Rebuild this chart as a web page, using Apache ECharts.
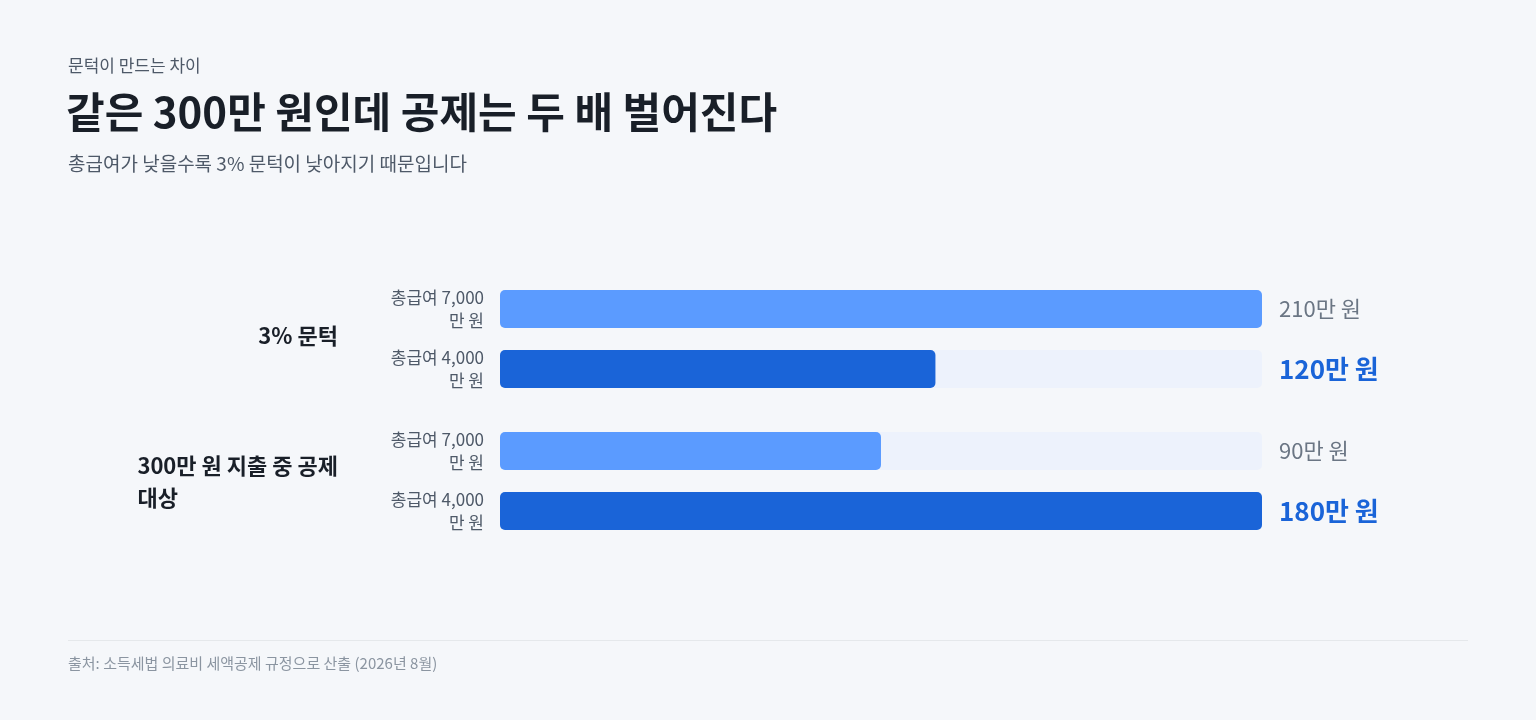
<!DOCTYPE html>
<html><head><meta charset="utf-8">
<script src="https://cdn.jsdelivr.net/npm/echarts@6/dist/echarts.min.js"></script>
<style>html,body{margin:0;background:#f5f7fa}#c{width:1536px;height:720px}</style>
</head><body><div id="c"></div>
<script>
const groups = ['3% 문턱', '300만 원 지출 중 공제\n대상'];
const rowLabels = ['총급여 7,000\n만 원', '총급여 4,000\n만 원'];
const values1 = [210, 120];
const values2 = [90, 180];
const valueText1 = ['210만 원', '120만 원'];
const valueText2 = ['90만 원', '180만 원'];

const F = '"Noto Sans CJK KR","Noto Sans",sans-serif';
const chart = echarts.init(document.getElementById('c'));
const barColors = ['#5b9bff', '#1a64d8'];
function grid(i, top){ return {left:500, width:762, top:top, height:120}; }
function yAx(i){ return {type:'category', gridIndex:i, inverse:true, data:rowLabels,
  axisLine:{show:false}, axisTick:{show:false},
  axisLabel:{fontFamily:F, fontSize:17, color:'#4e5968', lineHeight:23, align:'right', margin:16}}; }
function xAx(i, max){ return {type:'value', gridIndex:i, max:max, min:0, show:false}; }
function series(i, vals, texts, max){
  return [
    {type:'bar', xAxisIndex:i, yAxisIndex:i, barWidth:38, silent:true,
     data: vals.map((v,k)=>({value:max, itemStyle:{color:'#edf2fc', borderRadius:5},
       label:{show:true, position:'right', distance:17, formatter:texts[k], fontFamily:F,
         fontSize: k===1?26:22, fontWeight: k===1?'bold':'normal', color: k===1?'#1a64d8':'#6b7684'}}))},
    {type:'bar', xAxisIndex:i, yAxisIndex:i, barWidth:38, barGap:'-100%',
     data: vals.map((v,k)=>({value:v, itemStyle:{color:barColors[k], borderRadius:5}}))}
  ];
}
chart.setOption({
  backgroundColor:'#f5f7fa',
  animation:false,
  grid:[grid(0,279), grid(1,421)],
  xAxis:[xAx(0,210), xAx(1,180)],
  yAxis:[yAx(0), yAx(1)],
  series:[...series(0, values1, valueText1, 210), ...series(1, values2, valueText2, 180)],
  graphic:[
    {type:'text', left:68, top:57, style:{text:'문턱이 만드는 차이', font:'17px '+F, fill:'#4e5968'}},
    {type:'text', left:66, top:91, style:{text:'같은 300만 원인데 공제는 두 배 벌어진다', font:'bold 42px '+F, fill:'#191f28'}},
    {type:'text', left:68, top:154, style:{text:'총급여가 낮을수록 3% 문턱이 낮아지기 때문입니다', font:'19px '+F, fill:'#4e5968'}},
    {type:'text', right:1536-338, top:325, style:{text:groups[0], font:'bold 22px '+F, fill:'#191f28', align:'right'}},
    {type:'text', right:1536-338, top:450, style:{text:groups[1], font:'bold 22px '+F, fill:'#191f28', align:'right', lineHeight:32}},
    {type:'line', shape:{x1:68, y1:640.5, x2:1468, y2:640.5}, style:{stroke:'#e5e8eb', lineWidth:1}},
    {type:'text', left:68, top:656, style:{text:'출처: 소득세법 의료비 세액공제 규정으로 산출 (2026년 8월)', font:'15px '+F, fill:'#8b95a1'}}
  ]
});
</script></body></html>
